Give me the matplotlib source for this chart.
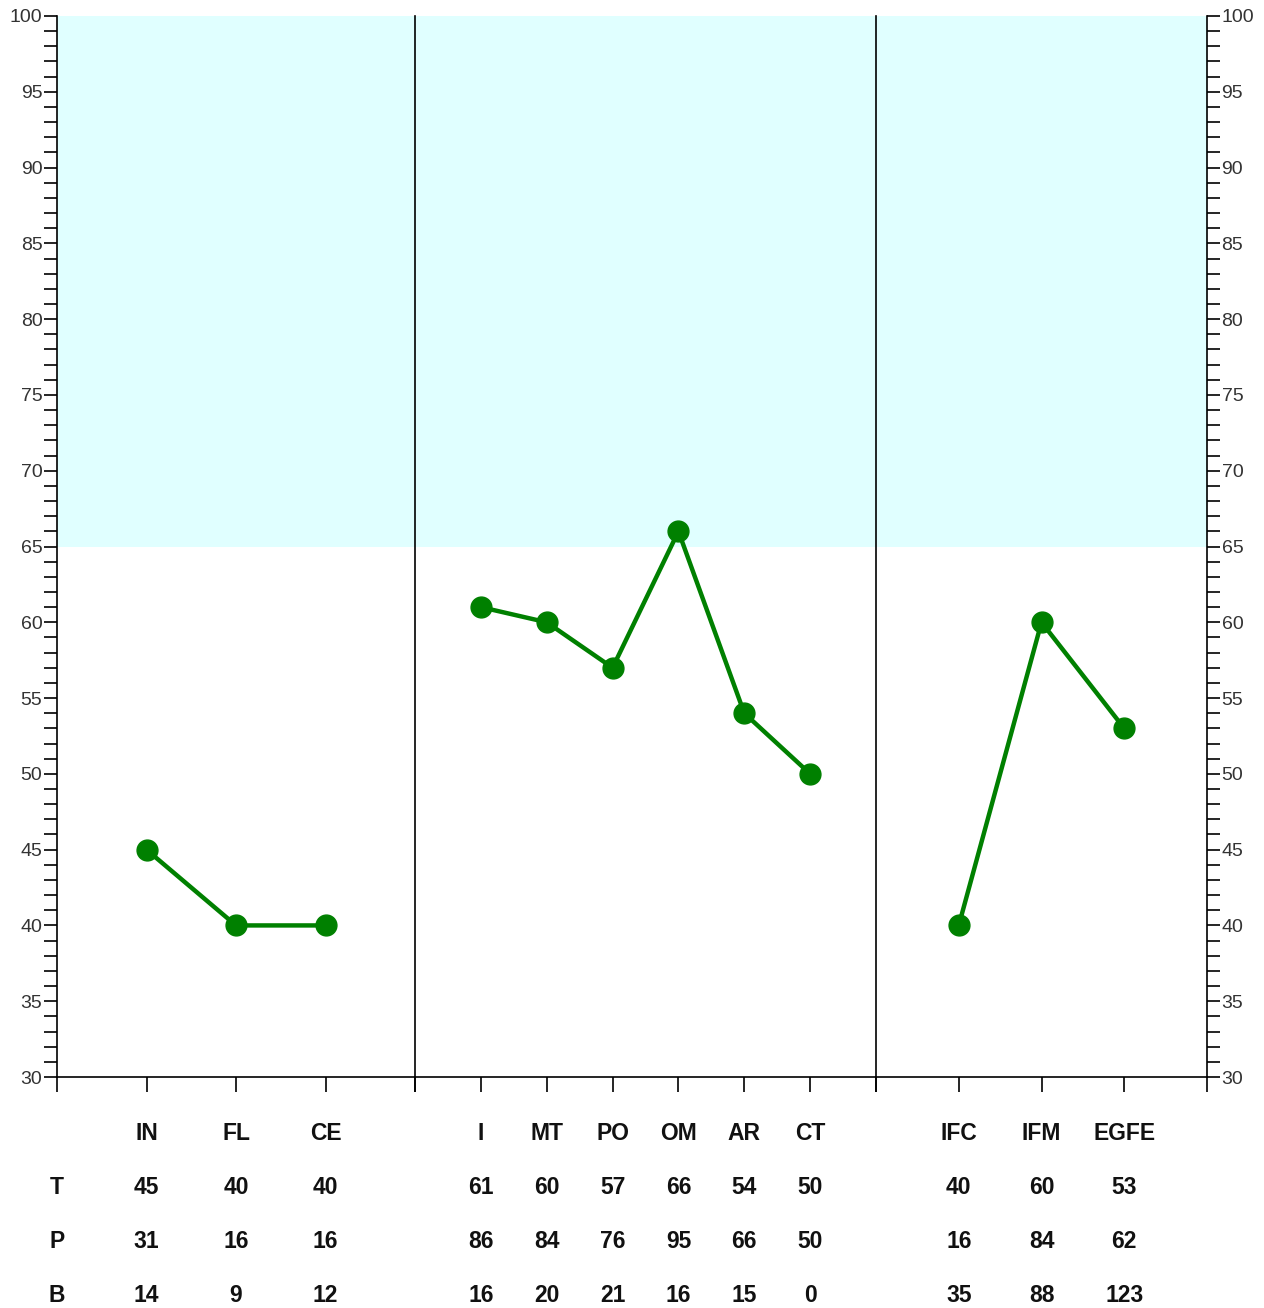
import matplotlib
matplotlib.use("Agg")
import matplotlib.pyplot as plt
from matplotlib.ticker import MultipleLocator
import matplotlib.transforms as mtransforms

# grupos de escalas
grupos = [
    ["IN", "FL", "CE"],
    ["I", "MT", "PO", "OM", "AR", "CT"],
    ["IFC", "IFM", "EGFE"],
]
valores_t = [
    [45, 40, 40],
    [61, 60, 57, 66, 54, 50],
    [40, 60, 53],
]
valores_p = [
    [31, 16, 16],
    [86, 84, 76, 95, 66, 50],
    [16, 84, 62],
]
valores_b = [
    [14, 9, 12],
    [16, 20, 21, 16, 15, 0],
    [35, 88, 123],
]
linhas_tabela = ["T", "P", "B"]
y_min, y_max = 30, 100
faixa_inicio = 65

plt.rcParams['font.family'] = ['Liberation Sans', 'DejaVu Sans']

fig = plt.figure(figsize=(12.64, 13.08), dpi=100)
gs = fig.add_gridspec(1, 3, width_ratios=[358, 461, 331], wspace=0,
                      left=57 / 1264, right=1207 / 1264,
                      top=1 - 16 / 1308, bottom=1 - 1077 / 1308)

verde = '#008000'
linhas_y = [1 - 1134 / 1308, 1 - 1187 / 1308, 1 - 1241 / 1308, 1 - 1295 / 1308]
estilo_tab = dict(ha='center', va='center', fontsize=16.5, fontweight='bold',
                  color='#111111')

eixos = []
for i, nomes in enumerate(grupos):
    ax = fig.add_subplot(gs[0, i])
    eixos.append(ax)
    n = len(nomes)
    xs = list(range(1, n + 1))
    ax.set_xlim(0, n + 1)
    ax.set_ylim(y_min, y_max)
    ax.axhspan(faixa_inicio, y_max, color='#e0ffff', zorder=0, lw=0)
    ax.plot(xs, valores_t[i], color=verde, lw=3.2, marker='o', ms=15,
            zorder=3, clip_on=False)

    ax.set_xticks([0] + xs + [n + 1])
    ax.set_xticklabels([])
    ax.tick_params(axis='x', direction='out', length=11, width=1.2, color='black')

    ax.spines['top'].set_visible(False)
    ax.spines['right'].set_visible(False)
    ax.spines['bottom'].set_linewidth(1.2)
    ax.spines['left'].set_linewidth(1.2)
    ax.spines['bottom'].set_zorder(4)

    if i == 0:
        ax.yaxis.set_major_locator(MultipleLocator(5))
        ax.yaxis.set_minor_locator(MultipleLocator(1))
        ax.tick_params(axis='y', which='both', direction='out', length=9.5,
                       width=1.2, labelsize=14, labelcolor='#333333', pad=1)
    else:
        ax.set_yticks([])

    trans = mtransforms.blended_transform_factory(ax.transData, fig.transFigure)
    for j, nome in enumerate(nomes):
        x = xs[j]
        ax.text(x, linhas_y[0], nome, transform=trans, **estilo_tab)
        ax.text(x, linhas_y[1], str(valores_t[i][j]), transform=trans, **estilo_tab)
        ax.text(x, linhas_y[2], str(valores_p[i][j]), transform=trans, **estilo_tab)
        ax.text(x, linhas_y[3], str(valores_b[i][j]), transform=trans, **estilo_tab)

# eixo direito
ax_dir = eixos[-1].twinx()
ax_dir.set_ylim(y_min, y_max)
ax_dir.yaxis.set_major_locator(MultipleLocator(5))
ax_dir.yaxis.set_minor_locator(MultipleLocator(1))
ax_dir.tick_params(axis='y', which='both', direction='out', length=9.5,
                   width=1.2, labelsize=14, labelcolor='#333333', pad=1)
for lado in ['top', 'left', 'bottom']:
    ax_dir.spines[lado].set_visible(False)
ax_dir.spines['right'].set_linewidth(1.2)

# rótulos das linhas da tabela
trans0 = mtransforms.blended_transform_factory(eixos[0].transAxes, fig.transFigure)
for k, rotulo in enumerate(linhas_tabela):
    eixos[0].text(0, linhas_y[k + 1], rotulo, transform=trans0, **estilo_tab)

fig.savefig('out.png', dpi=100)
